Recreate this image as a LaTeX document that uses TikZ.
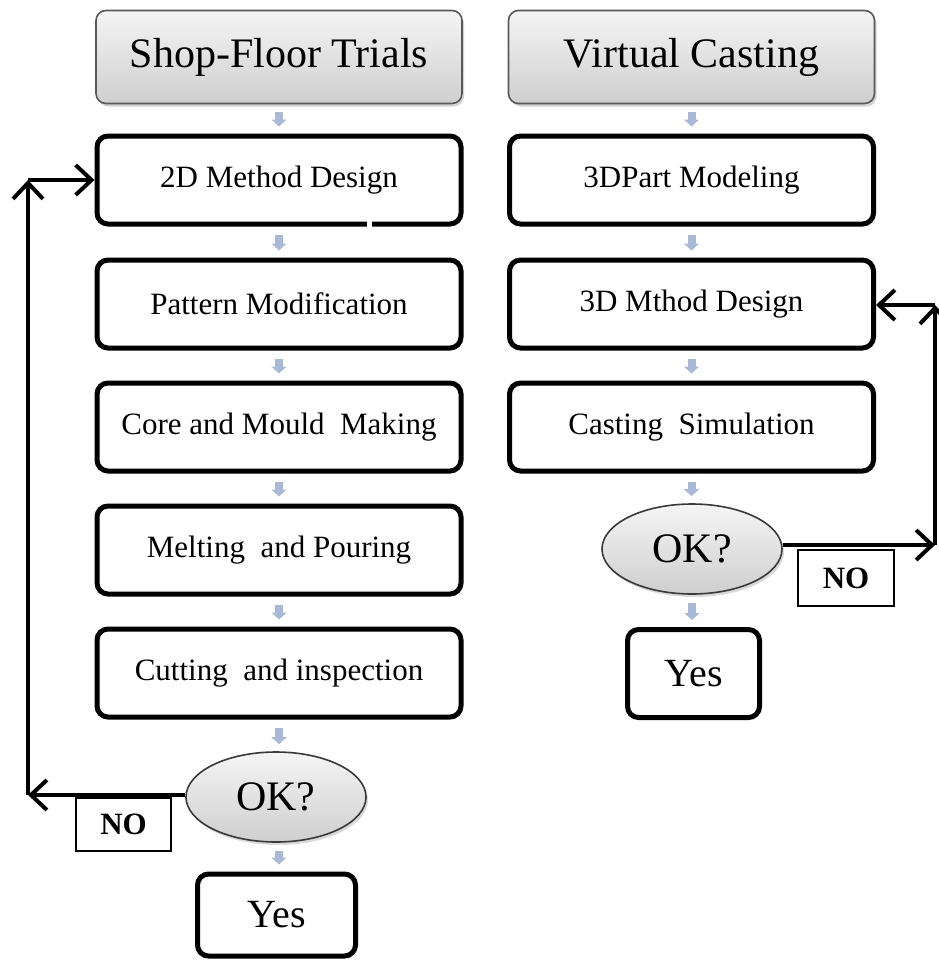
\documentclass[tikz,border=0pt]{standalone}
\usepackage{fontspec}
\setmainfont{Liberation Serif}
\usetikzlibrary{arrows.meta,shadows,shapes.geometric,calc}
\begin{document}
\begin{tikzpicture}[x=1pt,y=-1pt,
  header/.style={draw=gray!70!black, line width=1.6pt, rounded corners=10pt,
    top color=gray!8, bottom color=gray!38,
    drop shadow={opacity=0.35, shadow xshift=2pt, shadow yshift=-3pt},
    minimum width=366pt, minimum height=93pt, inner sep=0pt,
    font=\fontsize{42}{50}\selectfont},
  stepbox/.style={draw=black, line width=5pt, rounded corners=11pt, fill=white,
    minimum width=364pt, minimum height=88pt, inner sep=0pt,
    font=\fontsize{31}{37}\selectfont},
  okell/.style={ellipse, draw=gray!45!black, line width=1.6pt,
    top color=gray!8, bottom color=gray!38,
    drop shadow={opacity=0.3, shadow xshift=2pt, shadow yshift=-3pt},
    minimum width=180pt, minimum height=90pt, inner sep=0pt,
    font=\fontsize{42}{50}\selectfont},
  yesbox/.style={draw=black, line width=5pt, rounded corners=11pt, fill=white,
    inner sep=0pt, font=\fontsize{40}{48}\selectfont},
  nobox/.style={draw=black, line width=1.3pt, fill=white, inner sep=0pt,
    font=\fontsize{31}{37}\selectfont\bfseries},
  flow/.style={line width=8pt, draw={rgb,255:red,168;green,186;blue,216},
    -{Triangle[length=7pt,width=15pt]}, shorten <=8pt, shorten >=7pt},
  loop/.style={line width=4pt, draw=black,
    -{Straight Barb[length=16pt,width=30pt,line width=4pt]}}
]
\useasboundingbox (0,0) rectangle (938,964);

% headers
\node[header] (h1) at (279,57) {Shop-Floor Trials};
\node[header] (h2) at (691.5,57) {Virtual Casting};

% left column
\node[stepbox] (a1) at (279,180) {2D Method Design};
\node[stepbox] (a2) at (279,304) {Pattern Modification};
\node[stepbox] (a3) at (279,427) {Core and Mould\ \ Making};
\node[stepbox] (a4) at (279,550) {Melting\ \ and Pouring};
\node[stepbox] (a5) at (279,673) {Cutting\ \ and inspection};
\node[okell] (ok1) at (276,797) {OK?};
\node[yesbox, minimum width=158pt, minimum height=82pt] (y1) at (276.5,915) {Yes};
\node[nobox, minimum width=95pt, minimum height=53pt] (n1) at (123.5,824.5) {NO};

% right column
\node[stepbox] (b1) at (691.5,180) {3DPart Modeling};
\node[stepbox] (b2) at (691.5,304) {3D Mthod Design};
\node[stepbox] (b3) at (691.5,427) {Casting\ \ Simulation};
\node[okell] (ok2) at (692,549) {OK?};
\node[yesbox, minimum width=132pt, minimum height=88pt] (y2) at (693.5,673.5) {Yes};
\node[nobox, minimum width=96pt, minimum height=56pt] (n2) at (846,578) {NO};

% small gap in the 2D box border
\fill[white] (367,220) rectangle (372,229);

% flow arrows
\draw[flow] (a1.north |- h1.south) -- (a1.north);
\draw[flow] (a1.south) -- (a2.north);
\draw[flow] (a2.south) -- (a3.north);
\draw[flow] (a3.south) -- (a4.north);
\draw[flow] (a4.south) -- (a5.north);
\draw[flow] (a5.south) -- (a5.south |- ok1.north);
\draw[flow] (ok1.south -| a5.south) -- (y1.north -| a5.south);

\draw[flow] (b1.north |- h2.south) -- (b1.north);
\draw[flow] (b1.south) -- (b2.north);
\draw[flow] (b2.south) -- (b3.north);
\draw[flow] (b3.south) -- (b3.south |- ok2.north);
\draw[flow] (ok2.south) -- (y2.north -| ok2.south);

% loops
\coordinate (lc1) at (28,795);
\coordinate (lc2) at (28,180);
\coordinate (rc1) at (935,545);
\coordinate (rc2) at (935,305);

\draw[loop] (ok1.west |- lc1) -- (lc1);
\draw[loop] (lc1) -- (lc2);
\draw[loop] (lc2) -- (a1.west);

\draw[loop] (ok2.east |- rc1) -- (rc1);
\draw[loop] (rc1) -- (rc2);
\draw[loop] (rc2) -- (b2.east |- rc2);
\end{tikzpicture}
\end{document}
